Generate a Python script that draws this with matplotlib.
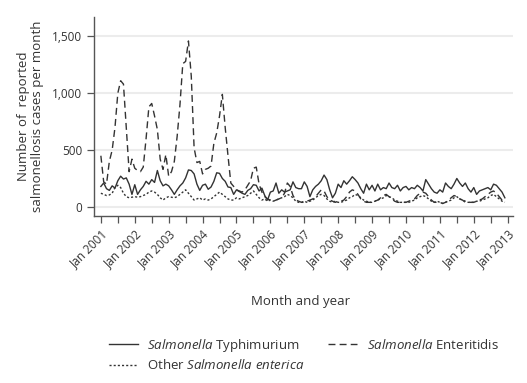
import numpy as np
from matplotlib import pyplot as plt
from matplotlib import rcParams
from matplotlib.ticker import FixedLocator

rcParams["font.family"] = "Open Sans"
rcParams["mathtext.fontset"] = "custom"
rcParams["mathtext.it"] = "Open Sans:italic"
rcParams["mathtext.rm"] = "Open Sans"

# monthly counts, Jan 2001 - Dec 2012
typhimurium = [
    180, 210, 160, 145, 185, 165, 230, 270, 245, 255, 200, 110,
    195, 110, 150, 180, 225, 200, 240, 215, 320, 230, 185, 200,
    185, 150, 110, 150, 185, 210, 255, 325, 320, 290, 200, 145,
    190, 200, 155, 175, 225, 300, 295, 250, 225, 175, 170, 110,
    150, 135, 120, 110, 145, 160, 195, 190, 140, 165, 100, 60,
    130, 140, 210, 120, 150, 130, 140, 150, 220, 170, 160, 160,
    220, 180, 90, 150, 180, 200, 230, 280, 240, 150, 80, 120,
    200, 170, 230, 200, 230, 265, 240, 210, 160, 120, 200, 150,
    190, 140, 200, 150, 170, 160, 210, 170, 160, 190, 140, 170,
    180, 150, 170, 160, 190, 170, 140, 240, 200, 160, 130, 120,
    150, 130, 210, 180, 160, 200, 250, 210, 180, 210, 160, 130,
    170, 110, 140, 150, 160, 170, 150, 200, 190, 160, 130, 80,
]
enteritidis = [
    450, 220, 200, 400, 500, 700, 1000, 1110, 1080, 700, 310, 420,
    340, 320, 310, 350, 600, 880, 910, 800, 680, 420, 330, 460,
    270, 310, 400, 620, 900, 1260, 1280, 1460, 1150, 520, 390, 400,
    290, 330, 340, 360, 560, 650, 800, 990, 700, 450, 210, 180,
    150, 140, 130, 150, 190, 230, 340, 350, 200, 130, 90, 70,
    60, 50, 60, 70, 80, 120, 210, 180, 100, 60, 50, 40,
    40, 50, 60, 70, 90, 120, 150, 140, 90, 60, 50, 40,
    50, 50, 60, 90, 130, 150, 140, 110, 70, 50, 40, 40,
    40, 50, 60, 80, 100, 110, 90, 70, 50, 40, 40, 40,
    40, 50, 60, 70, 100, 120, 130, 120, 90, 60, 40, 40,
    40, 30, 40, 60, 80, 100, 90, 70, 60, 40, 40, 40,
    40, 50, 60, 70, 90, 110, 130, 140, 120, 90, 60, 40,
]
other = [
    120, 110, 100, 105, 120, 170, 190, 170, 120, 90, 80, 85,
    90, 85, 90, 100, 110, 130, 140, 130, 110, 80, 60, 80,
    90, 85, 80, 90, 110, 130, 150, 120, 90, 60, 70, 80,
    60, 70, 60, 70, 90, 110, 130, 110, 90, 70, 60, 60,
    80, 70, 80, 90, 100, 120, 140, 110, 80, 60, 70, 50,
    60, 50, 60, 70, 80, 90, 110, 100, 80, 50, 40, 40,
    50, 40, 50, 60, 80, 100, 110, 100, 70, 50, 40, 50,
    40, 40, 50, 60, 80, 90, 110, 100, 80, 60, 50, 40,
    40, 50, 60, 70, 80, 100, 90, 80, 60, 50, 40, 40,
    40, 40, 50, 60, 80, 90, 100, 90, 70, 50, 40, 50,
    40, 30, 40, 50, 60, 80, 90, 70, 60, 50, 40, 40,
    40, 50, 50, 60, 70, 80, 100, 110, 90, 70, 50, 40,
]
years = list(range(2001, 2014))
year_labels = ['Jan %d' % y for y in years]
y_ticks = [0, 500, 1000, 1500]
y_labels = ['0', '500', '1,000', '1,500']

months = np.arange(len(typhimurium))
col = '#333333'

fig = plt.figure(figsize=(5.27, 3.83), dpi=100)
ax = fig.add_axes([0.178, 0.437, 0.795, 0.519])

for y in y_ticks:
    ax.axhline(y, color='#ececec', linewidth=1.5, zorder=0)

lt, = ax.plot(months, typhimurium, color=col, linewidth=1.0, linestyle='-')
le, = ax.plot(months, enteritidis, color=col, linewidth=1.0, linestyle=(0, (5, 3)))
lo, = ax.plot(months, other, color=col, linewidth=1.0, linestyle=(0, (1.5, 1.5)))

ax.set_xlim(-2.5, 145.8)
ax.set_ylim(-77, 1672)

for s in ['top', 'right']:
    ax.spines[s].set_visible(False)
for s in ['left', 'bottom']:
    ax.spines[s].set_color('#555555')
    ax.spines[s].set_linewidth(1.0)

xt = [12 * (y - 2001) for y in years]
ax.set_xticks(xt)
ax.set_xticklabels(year_labels, rotation=45, ha='right', rotation_mode='anchor')
ax.xaxis.set_minor_locator(FixedLocator([x + 6 for x in xt[:-1]]))
ax.set_yticks(y_ticks)
ax.set_yticklabels(y_labels)
ax.tick_params(axis='both', which='both', colors='#555555', labelcolor='#333333',
               labelsize=8.5, width=0.9)
ax.tick_params(axis='both', which='major', length=5)
ax.tick_params(axis='x', which='minor', length=5)

ax.set_ylabel('Number of  reported\nsalmonellosis cases per month', fontsize=9.5,
              color='#333333', labelpad=6, linespacing=1.1)
fig.text(0.57, 0.212, 'Month and year', ha='center', va='center',
         fontsize=9.5, color='#333333')

handles = [lt, lo, le]
labels = [r'$\it{Salmonella}$ Typhimurium',
          r'Other $\it{Salmonella\ enterica}$',
          r'$\it{Salmonella}$ Enteritidis']
fig.legend(handles, labels, loc='upper left', bbox_to_anchor=(0.197, 0.135),
           ncol=2, frameon=False, fontsize=9.5, handlelength=2.2,
           columnspacing=1.8, handletextpad=0.7, labelspacing=0.35,
           borderaxespad=0, labelcolor='#333333')

plt.savefig('out.png', dpi=100)
